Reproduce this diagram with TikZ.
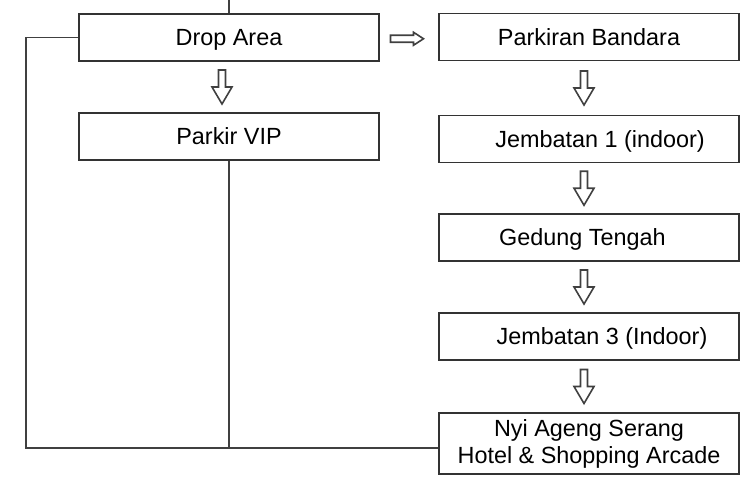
\documentclass[tikz,border=0pt]{standalone}
\usepackage{fontspec}
\setmainfont{Liberation Sans}
\usetikzlibrary{calc}

\begin{document}
\begin{tikzpicture}[x=0.5pt,y=-0.5pt,
    box/.style={draw=black!80, line width=0.8pt, minimum width=150pt, minimum height=23.5pt,
      inner sep=0pt, text height=8.4pt, text depth=0pt, font=\fontsize{11.7}{13.5}\selectfont},
    link/.style={draw=black!75, line width=0.8pt},
    downarrow/.pic={\draw[link] (-3.5,-17) -- (3.5,-17) -- (3.5,0) -- (10,0) -- (0,17) -- (-10,0) -- (-3.5,0) -- cycle;},
    rightarrow/.pic={\draw[link] (-16.5,-3.5) -- (6.5,-3.5) -- (6.5,-6.5) -- (16.5,0) -- (6.5,6.5) -- (6.5,3.5) -- (-16.5,3.5) -- cycle;}]
    \useasboundingbox (0,0) rectangle (748,484);
    % left column
    \node[box] (drop) at (229,37.5) {Drop Area};
    \node[box] (vip) at (229,136.5) {Parkir VIP};
    % right column
    \node[box] (bandara) at (589,37) {Parkiran Bandara};
    \node[box] (jemb1) at (589,139) {\hspace*{11pt}Jembatan 1 (indoor)};
    \node[box] (gedung) at (589,237.5) {Gedung Tengah\hspace*{6.5pt}};
    \node[box] (jemb3) at (589,336.5) {\hspace*{13pt}Jembatan 3 (Indoor)};
    \node[box, minimum height=30.5pt, text height=, text depth=, align=center] (nyi) at (589,443.5)
      {Nyi Ageng Serang\\Hotel \& Shopping Arcade};
    \coordinate (entry) at (229,0);
    \coordinate (join) at (229,448);
    \draw[link] (entry) -- (drop.north);
    \draw[link] (drop.west) -| (26,448) -- (nyi.west |- join);
    \draw[link] (vip.south) -- (join);
    % block arrows
    \pic at ($(drop.south)!0.5!(vip.north)+(-7,0)$) {downarrow};
    \pic at ($(drop.east)!0.5!(bandara.west)+(-2,1.5)$) {rightarrow};
    \pic at ($(bandara.south)!0.5!(jemb1.north)+(-5,0)$) {downarrow};
    \pic at ($(jemb1.south)!0.5!(gedung.north)+(-5,0)$) {downarrow};
    \pic at ($(gedung.south)!0.5!(jemb3.north)+(-5,0)$) {downarrow};
    \pic at ($(jemb3.south)!0.5!(nyi.north)+(-5,0)$) {downarrow};
\end{tikzpicture}
\end{document}
